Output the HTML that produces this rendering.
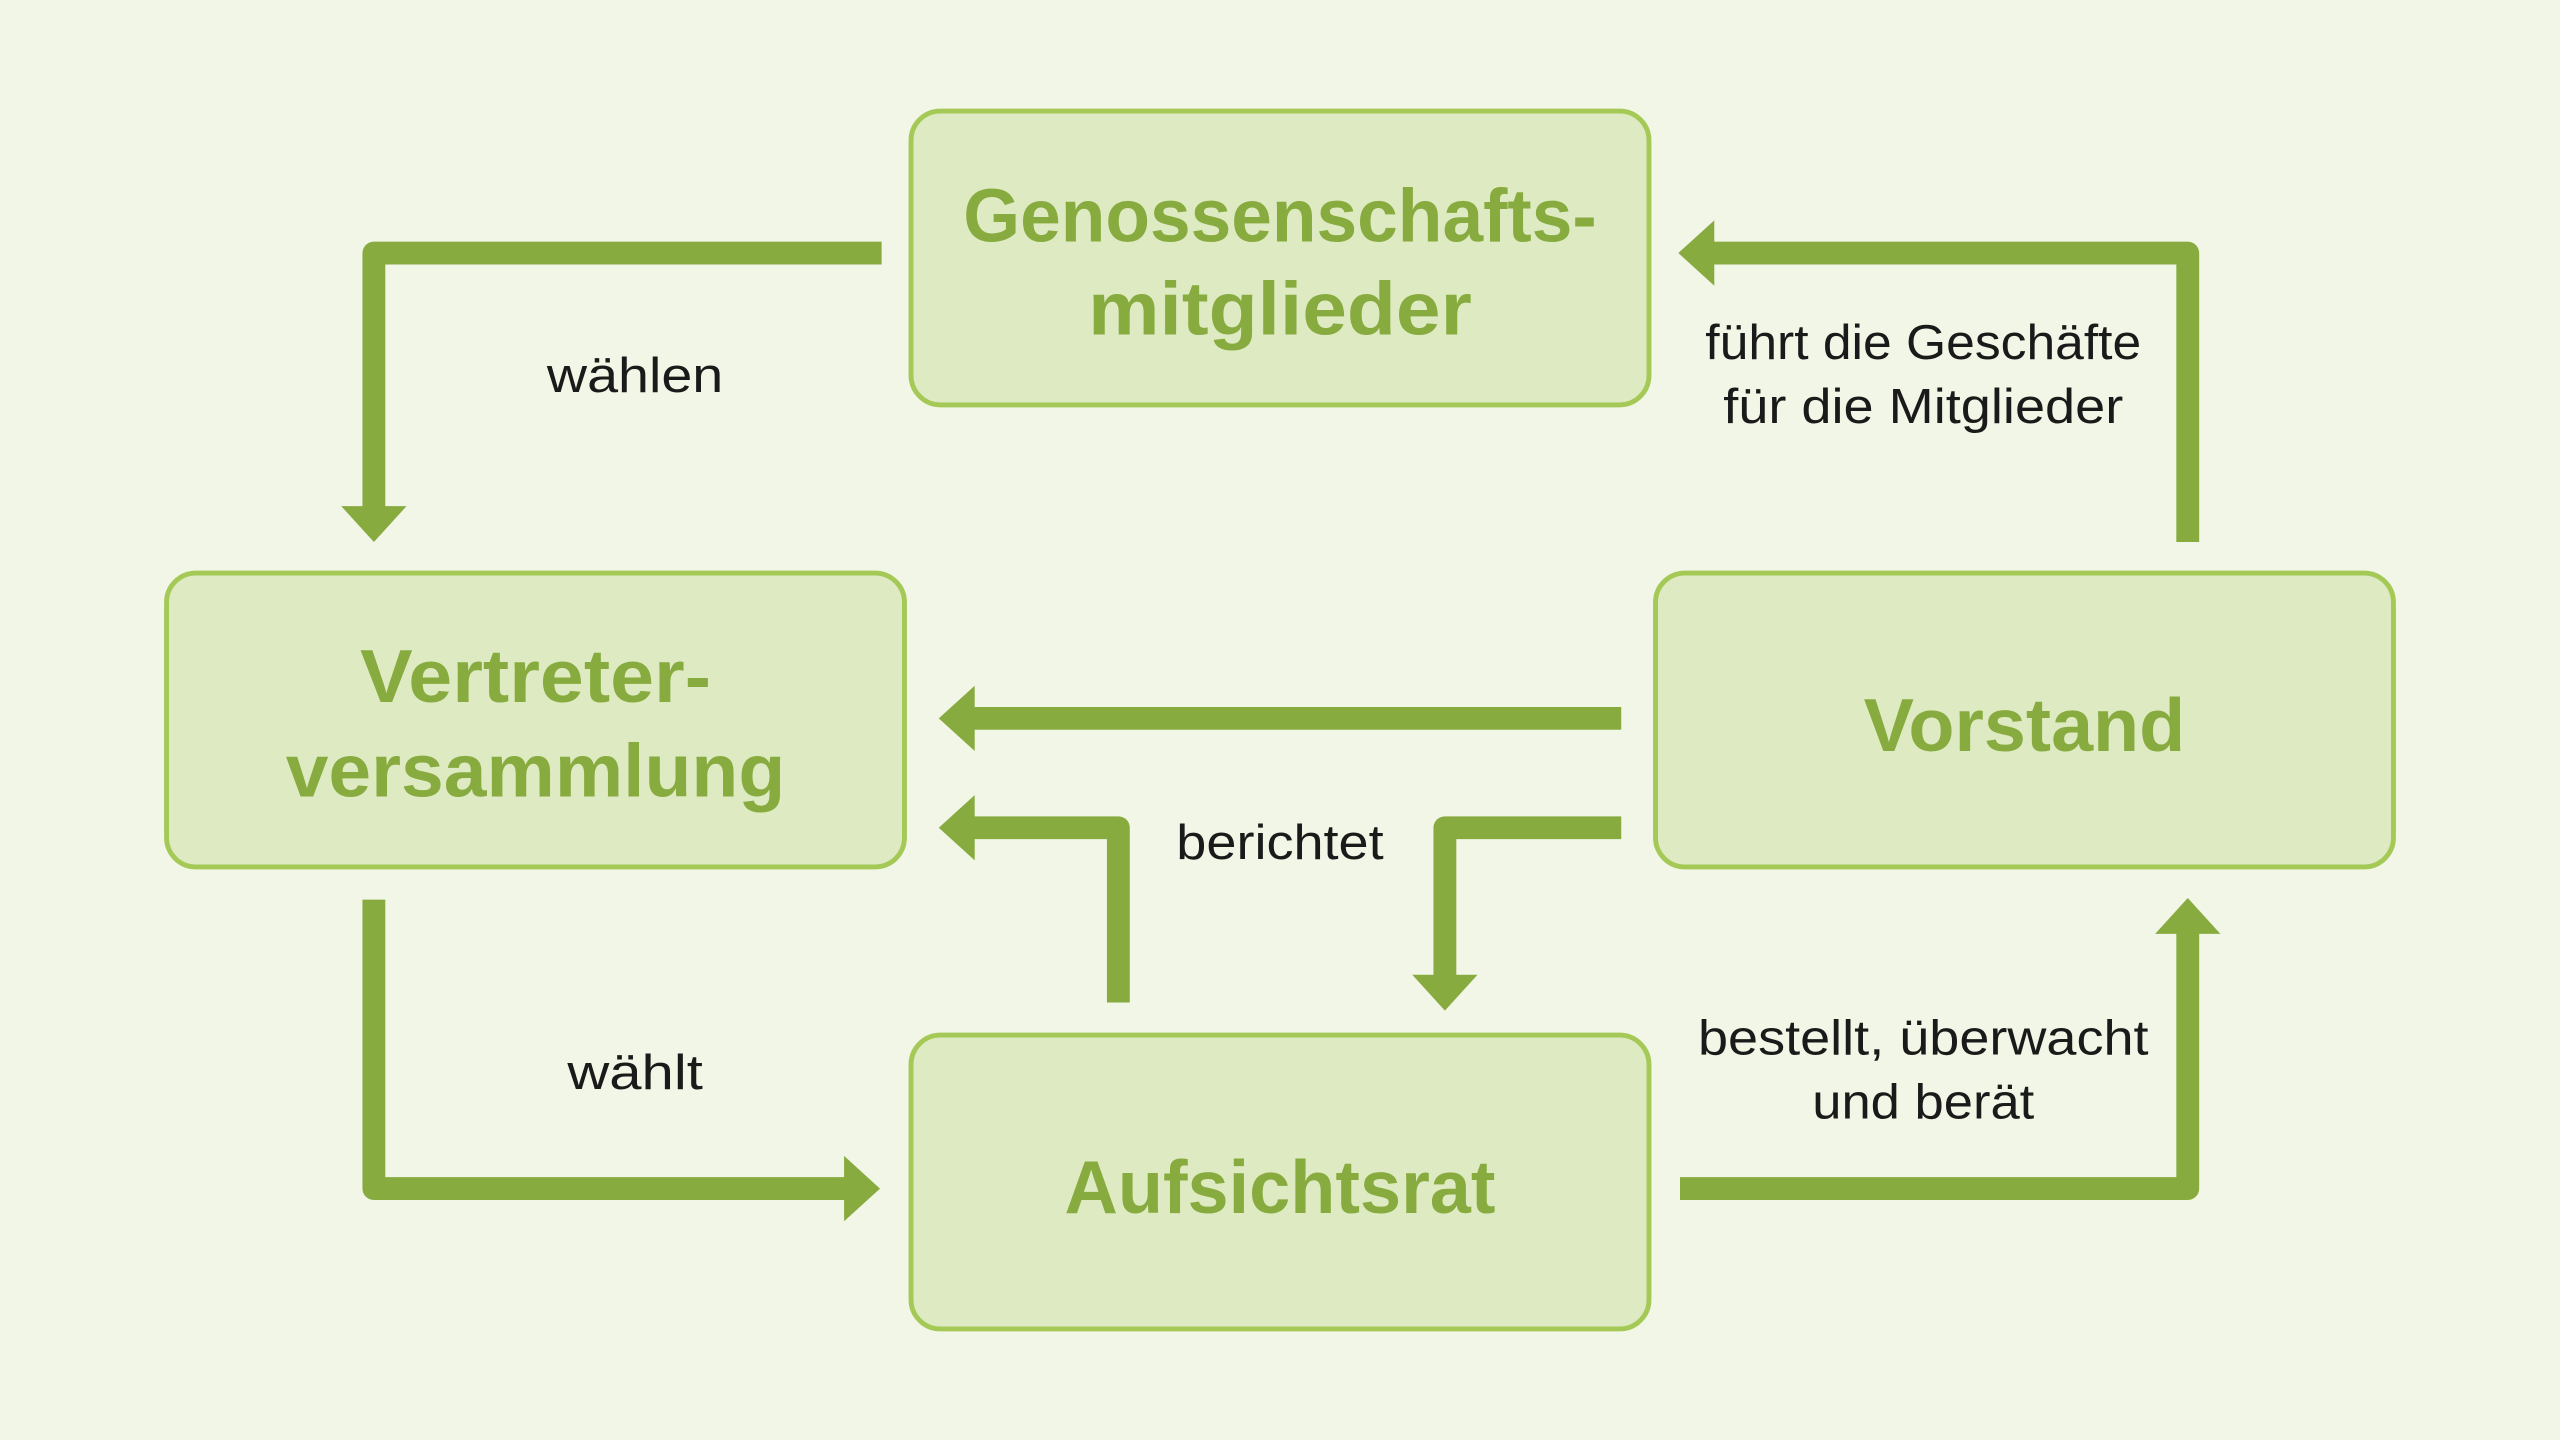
<!DOCTYPE html>
<html><head><meta charset="utf-8"><style>
html,body{margin:0;padding:0;background:#f2f6e6;}
svg{display:block;}
.t{font-family:"Liberation Sans",sans-serif;font-weight:bold;fill:#88ab40;font-size:46px;text-anchor:middle;}
.l{font-family:"Liberation Sans",sans-serif;fill:#1a1a1a;font-size:30px;text-anchor:middle;}
</style></head><body>
<svg width="2560" height="1440" viewBox="0 0 1568 882" xmlns="http://www.w3.org/2000/svg">
<rect width="1568" height="882" fill="#f2f6e6"/>
<g fill="#deebc2" stroke="#a5c956" stroke-width="3">
<rect x="558" y="68" width="452" height="180" rx="18"/>
<rect x="102" y="351" width="452" height="180" rx="18"/>
<rect x="1014" y="351" width="452" height="180" rx="18"/>
<rect x="558" y="634" width="452" height="180" rx="18"/>
</g>
<g class="t">
<text x="784" y="148" textLength="388" lengthAdjust="spacingAndGlyphs">Genossenschafts-</text>
<text x="784" y="205" textLength="235" lengthAdjust="spacingAndGlyphs">mitglieder</text>
<text x="328" y="430" textLength="215" lengthAdjust="spacingAndGlyphs">Vertreter-</text>
<text x="328" y="488" textLength="306" lengthAdjust="spacingAndGlyphs">versammlung</text>
<text x="1240" y="460" textLength="197" lengthAdjust="spacingAndGlyphs">Vorstand</text>
<text x="784" y="743" textLength="264" lengthAdjust="spacingAndGlyphs">Aufsichtsrat</text>
</g>
<g fill="none" stroke="#88ab40" stroke-width="14" stroke-linejoin="round">
<polyline points="540,155 229,155 229,312"/>
<polyline points="1340,332 1340,155 1048,155"/>
<polyline points="993,440 595,440"/>
<polyline points="685,614 685,507 595,507"/>
<polyline points="993,507 885,507 885,599"/>
<polyline points="229,551 229,728 519,728"/>
<polyline points="1029,728 1340,728 1340,570"/>
</g>
<g fill="#88ab40">
<polygon points="209,310 249,310 229,332"/>
<polygon points="1050,135 1050,175 1028,155"/>
<polygon points="597,420 597,460 575,440"/>
<polygon points="597,487 597,527 575,507"/>
<polygon points="865,597 905,597 885,619"/>
<polygon points="517,708 517,748 539,728"/>
<polygon points="1320,572 1360,572 1340,550"/>
</g>
<g class="l">
<text x="389" y="240" textLength="108" lengthAdjust="spacingAndGlyphs">wählen</text>
<text x="1178" y="220" textLength="267" lengthAdjust="spacingAndGlyphs">führt die Geschäfte</text>
<text x="1178" y="259" textLength="245" lengthAdjust="spacingAndGlyphs">für die Mitglieder</text>
<text x="784" y="526" textLength="127" lengthAdjust="spacingAndGlyphs">berichtet</text>
<text x="389" y="667" textLength="83" lengthAdjust="spacingAndGlyphs">wählt</text>
<text x="1178" y="646" textLength="276" lengthAdjust="spacingAndGlyphs">bestellt, überwacht</text>
<text x="1178" y="685" textLength="136" lengthAdjust="spacingAndGlyphs">und berät</text>
</g>
</svg>
</body></html>
